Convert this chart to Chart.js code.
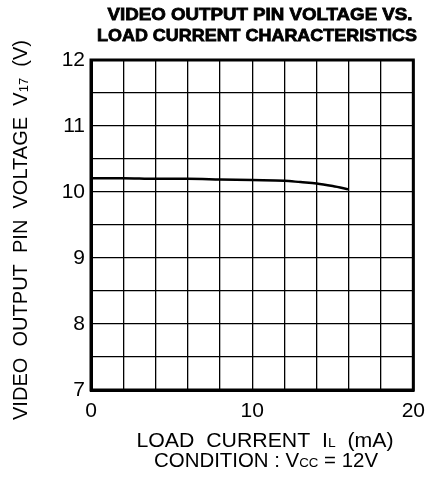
<!DOCTYPE html>
<html>
<head>
<meta charset="utf-8">
<title>Video output pin voltage vs. load current</title>
<script src="https://cdn.jsdelivr.net/npm/chart.js@4"></script>
<style>
  html, body { margin: 0; padding: 0; background: #fff; }
  #wrap { width: 434px; height: 482px; position: relative; }
</style>
</head>
<body>
<div id="wrap"><canvas id="chart"></canvas></div>
<script>
// Data
const loadCurrent = [0, 2, 4, 6, 8, 10, 12, 13, 14, 15, 16];          // mA
const pinVoltage  = [10.21, 10.21, 10.2, 10.2, 10.19, 10.18, 10.17, 10.15, 10.13, 10.09, 10.04]; // V
const xTickLabels = [0, 10, 20];
const yTickLabels = [7, 8, 9, 10, 11, 12];

const FONT = "'Liberation Sans', Arial, sans-serif";

// draw a line of text made of runs (for subscripts), squeezed to a given width
function drawRuns(ctx, runs, cx, cy, width, angle, stroke) {
    ctx.save();
    ctx.translate(cx, cy);
    ctx.rotate(angle || 0);
    ctx.textBaseline = 'middle';
    ctx.textAlign = 'left';
    ctx.fillStyle = '#000';
    ctx.strokeStyle = '#000';
    let total = 0;
    runs.forEach(r => {
        ctx.font = r.font;
        r.w = ctx.measureText(r.text).width;
        total += r.w;
    });
    ctx.scale(width / total, 1);
    let x = -total / 2;
    runs.forEach(r => {
        ctx.font = r.font;
        ctx.fillText(r.text, x, r.dy || 0);
        if (stroke) {
            ctx.lineWidth = stroke;
            ctx.strokeText(r.text, x, r.dy || 0);
        }
        x += r.w;
    });
    ctx.restore();
}

const textPlugin = {
    id: 'texts',
    afterDraw(chart) {
        const ctx = chart.ctx;
        const big = "20px " + FONT;
        const small = "13px " + FONT;
        const bold = "bold 17px " + FONT;

        // thick frame round the plot
        const a = chart.chartArea;
        ctx.save();
        ctx.strokeStyle = '#000';
        ctx.lineWidth = 3;
        ctx.strokeRect(a.left, a.top, a.right - a.left, a.bottom - a.top);
        ctx.restore();

        // title
        drawRuns(ctx, [{ text: 'VIDEO OUTPUT PIN VOLTAGE VS.', font: bold }], 260, 15, 305, 0, 0.8);
        drawRuns(ctx, [{ text: 'LOAD CURRENT CHARACTERISTICS', font: bold }], 257, 36, 320, 0, 0.8);

        // x axis title
        drawRuns(ctx, [
            { text: 'LOAD  CURRENT  I', font: big },
            { text: 'L', font: small, dy: 2 },
            { text: '  (mA)', font: big }
        ], 265, 441, 257);
        drawRuns(ctx, [
            { text: 'CONDITION : V', font: big },
            { text: 'CC', font: small, dy: 2 },
            { text: ' = 12V', font: big }
        ], 266, 461, 224);

        // y axis title
        drawRuns(ctx, [
            { text: 'VIDEO  OUTPUT  PIN  VOLTAGE  V', font: big },
            { text: '17', font: small, dy: 3 },
            { text: '  (V)', font: big }
        ], 21, 230, 380, -Math.PI / 2);
    }
};

const points = loadCurrent.map((x, i) => ({ x: x, y: pinVoltage[i] }));

new Chart(document.getElementById('chart'), {
    type: 'line',
    data: {
        datasets: [{
            data: points,
            borderColor: '#000',
            borderWidth: 2.5,
            pointRadius: 0,
            cubicInterpolationMode: 'monotone',
            fill: false
        }]
    },
    options: {
        responsive: true,
        maintainAspectRatio: false,
        animation: false,
        layout: { padding: { top: 60, right: 17, bottom: 0, left: 0 } },
        plugins: {
            legend: { display: false },
            tooltip: { enabled: false }
        },
        scales: {
            x: {
                type: 'linear',
                min: 0,
                max: 20,
                afterFit: s => { s.height = 92; },
                grid: { color: '#000', lineWidth: 1.3, drawTicks: false },
                border: { color: '#000', width: 3 },
                ticks: {
                    stepSize: 2,
                    autoSkip: false,
                    maxRotation: 0,
                    padding: 9,
                    color: '#000',
                    font: { family: FONT, size: 21 },
                    callback: v => xTickLabels.includes(v) ? String(v) : ''
                }
            },
            y: {
                min: 7,
                max: 12,
                afterFit: s => { s.width = 91; },
                grid: { color: '#000', lineWidth: 1.3, drawTicks: false },
                border: { color: '#000', width: 3 },
                ticks: {
                    stepSize: 0.5,
                    autoSkip: false,
                    padding: 6,
                    color: '#000',
                    font: { family: FONT, size: 21 },
                    callback: v => yTickLabels.includes(v) ? String(v) : ''
                }
            }
        }
    },
    plugins: [textPlugin]
});
</script>
</body>
</html>
